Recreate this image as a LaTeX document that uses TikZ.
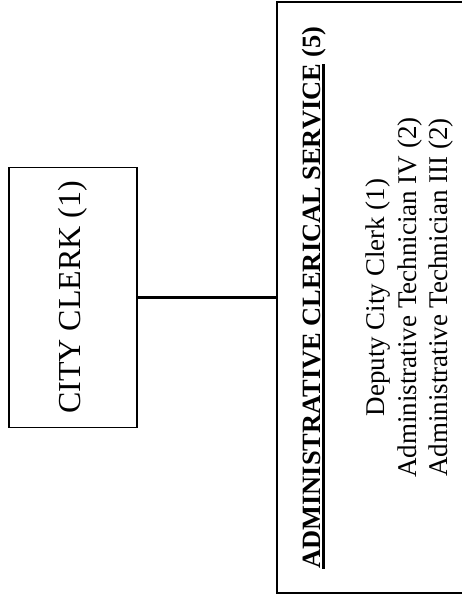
\documentclass[tikz,border=0pt]{standalone}
\usepackage{fontspec}
\setmainfont{Liberation Serif}
\newcommand{\titleline}[1]{\setbox0\hbox{#1}\rlap{\rule[-4pt]{\wd0}{2.4pt}}\box0\relax}

\begin{document}
\begin{tikzpicture}[x=1pt, y=1pt,
		box/.style={draw, line width=1.3pt, rotate=90, inner sep=0pt},
		link/.style={line width=2.3pt}]
				\path[use as bounding box, clip] (0,0) rectangle (462,599);
				
				\node[box, minimum width=260pt, minimum height=128pt, font=\fontsize{32}{38}\selectfont] (clerk) at (73,301.5) {CITY CLERK (1)};
				
				\node[box, minimum width=591pt, minimum height=202pt, align=center, font=\fontsize{27}{31.8}\selectfont] (clerical) at (378,301.5)
					{{\fontsize{26.4}{31.8}\selectfont\bfseries\titleline{ADMINISTRATIVE CLERICAL SERVICE} (5)}\\[31.8pt]
					Deputy City Clerk (1)\\
					Administrative Technician IV (2)\\
					Administrative Technician III (2)};
				
				\draw[link] (clerk.south) -- (clerk.south -| clerical.north);
\end{tikzpicture}
\end{document}
